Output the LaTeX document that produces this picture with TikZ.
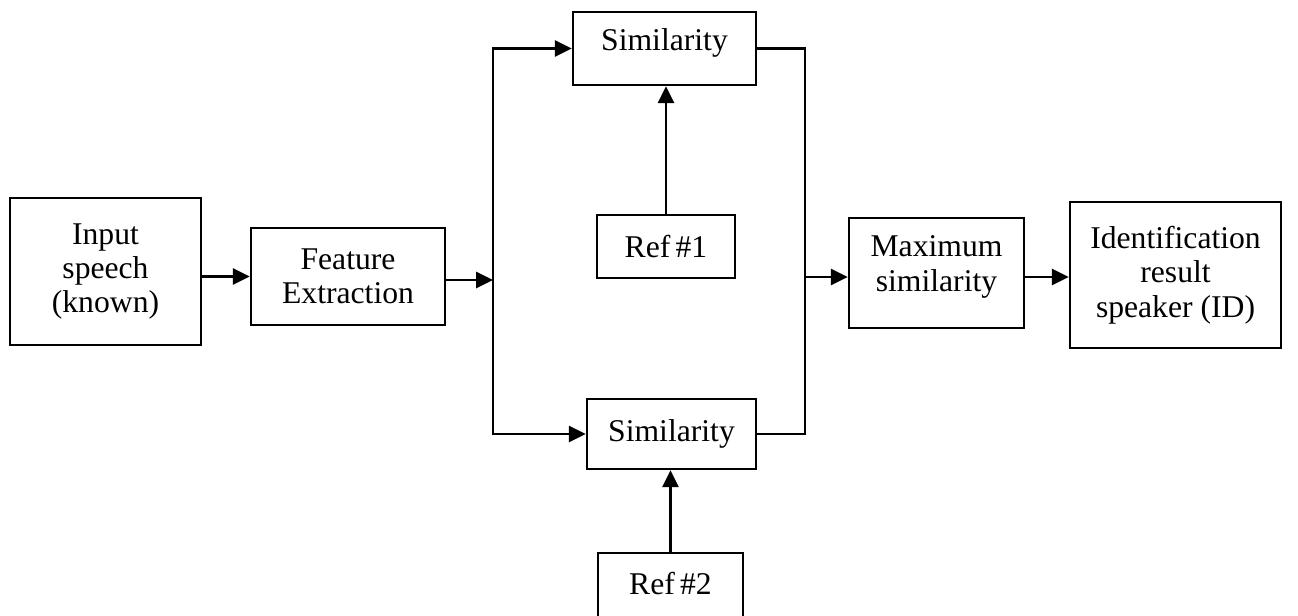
\documentclass[tikz,border=0pt]{standalone}
\usepackage{fontspec}
\setmainfont{Liberation Serif}
\usetikzlibrary{arrows.meta,calc}
\begin{document}
\begin{tikzpicture}[x=0.01cm,y=-0.01cm,
  box/.style={draw,line width=0.7pt,inner sep=0pt,align=center,
    font=\fontsize{9}{9.8}\selectfont},
  lbl/.style={inner sep=0pt,align=center,font=\fontsize{9}{9.8}\selectfont},
  link/.style={line width=0.7pt},
  arr/.style={line width=0.7pt,-{Triangle[length=4.8pt,width=4.6pt]}}]
\useasboundingbox (0,0) rectangle (1298,615);
\begin{scope}
\clip (0,0) rectangle (1298,615);
% processing blocks
\node[box,minimum width=1.91cm,minimum height=1.47cm] (in) at (105.5,271.5) {Input\\speech\\(known)};
\node[box,minimum width=1.94cm,minimum height=0.97cm] (fe) at (348,276.5) {Feature\\Extraction};
\node[box,minimum width=1.83cm,minimum height=0.73cm] (s1) at (664.5,48.5) {};
\node[lbl] at ($(s1.center)+(0,-6)$) {Similarity};
\node[box,minimum width=1.38cm,minimum height=0.63cm] (r1) at (666,246.5) {Ref\,\#1};
\node[box,minimum width=1.69cm,minimum height=0.70cm] (s2) at (671.5,434) {Similarity};
\node[box,minimum width=1.45cm,minimum height=0.80cm] (r2) at (670.5,593) {};
\node[lbl] at (670.5,583) {Ref\,\#2};
\node[box,minimum width=1.75cm,minimum height=1.10cm] (mx) at (936.5,273) {};
\node[lbl] at ($(mx.center)+(0,-6)$) {Maximum\\similarity};
\node[box,minimum width=2.11cm,minimum height=1.46cm] (id) at (1175.5,275) {Identification\\result\\speaker (ID)};
% branch and merge points
\coordinate (j) at (493,280);
\coordinate (m) at (805,277);
\end{scope}
% connectors
\draw[arr] (in.east |- fe.west) -- (fe.west);
\draw[arr] (fe.east |- j) -- (j);
\draw[arr] (j) |- (s1.west);
\draw[arr] (j) |- (s2.west);
\draw[arr] (r1.north) -- (r1.north |- s1.south);
\draw[arr] (r2.north) -- (r2.north |- s2.south);
\draw[link] (s1.east) -| (m);
\draw[link] (s2.east) -| (m);
\draw[arr] (m) -- (m -| mx.west);
\draw[arr] (mx.east |- m) -- (m -| id.west);
\end{tikzpicture}
\end{document}
